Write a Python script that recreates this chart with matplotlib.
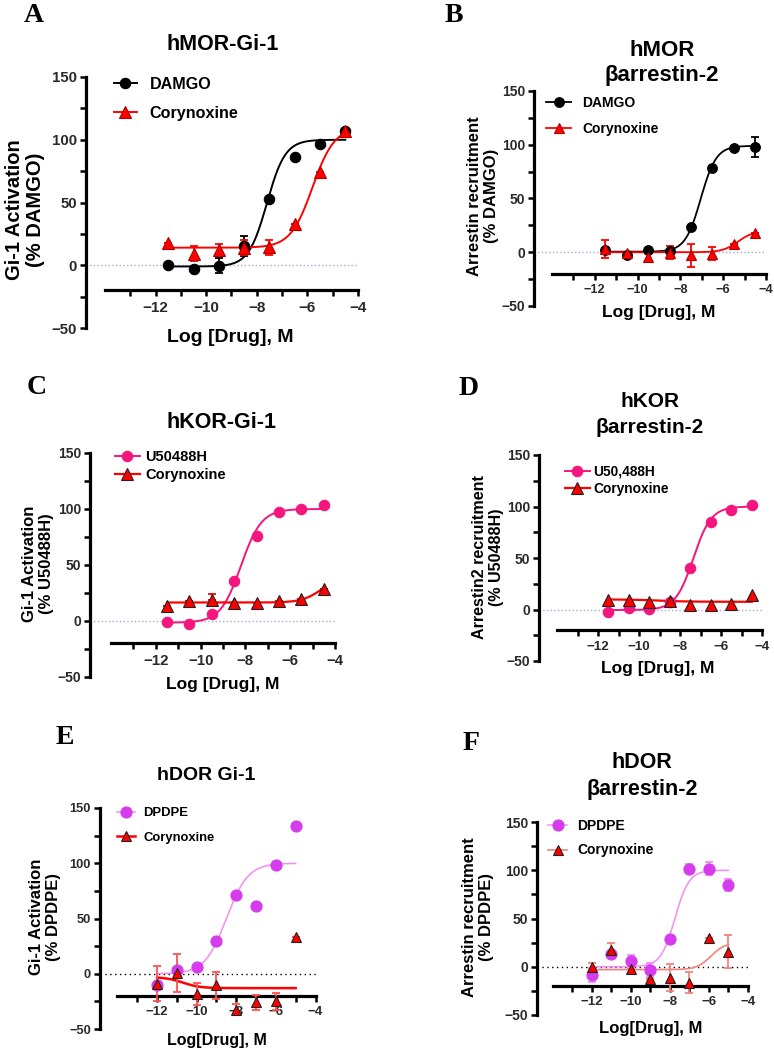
import numpy as np
import matplotlib
matplotlib.use("Agg")
import matplotlib.pyplot as plt
from matplotlib.lines import Line2D

plt.rcParams['font.family'] = ['Liberation Sans', 'DejaVu Sans']
plt.rcParams['font.weight'] = 'bold'

W, H = 774, 1050

# ---------------- data ----------------
x_half = [-11.5, -10.5, -9.5, -8.5, -7.5, -6.5, -5.5, -4.5]
x_int = [-12, -11, -10, -9, -8, -7, -6, -5]

# Panel A  hMOR-Gi-1
a_damgo = [0, -3, -0.5, 15, 52.5, 86.5, 96.5, 107]
a_damgo_err = [0, 0, 6, 8, 0, 0, 0, 0]
a_cory = [17.5, 9, 12, 14, 14.5, 32.5, 74.5, 107]
a_cory_err = [0, 6, 5, 6, 6, 0, 0, 0]
a_damgo_fit = [-1, 100, -7.6, 1.2]      # bottom, top, logEC50, hill
a_cory_fit = [14, 110, -5.8, 1.0]

# Panel B  hMOR barrestin-2
b_damgo = [2, -3, 2.5, 1.2, 23.5, 78.5, 97, 98]
b_damgo_err = [0, 0, 0, 0, 0, 0, 0, 9]
b_cory = [3, -1, -4.5, -0.5, -3, -1.5, 7.5, 17.5]
b_cory_err = [8.5, 0, 4, 6, 11, 6, 0, 0]
b_damgo_fit = [0.5, 99, -7.05, 1.2]
b_cory_fit = [0, 20, -5.3, 1.2]

# Panel C  hKOR-Gi-1
c_u50 = [-0.7, -2.5, 6.5, 35.5, 75.5, 97.3, 99.7, 104]
c_cory = [13.4, 17.8, 19, 16.4, 15.8, 17.8, 19.3, 28.3]
c_cory_err_up = [0, 0, 5, 0, 0, 0, 0, 0]
c_u50_fit = [-1.5, 100, -8.2, 0.95]
c_cory_fit = [16.5, 40, -4.6, 1.0]

# Panel D  hKOR barrestin-2
d_u50 = [-2.3, 1.3, 0.3, 7.7, 40, 84.5, 96.8, 101.6]
d_cory = [9, 9.7, 6.8, 8, 4.2, 4.8, 5.5, 13.9]
d_u50_fit = [-0.5, 100, -7.35, 1.0]
d_cory_fit = [9.8, 7.5, -9.0, 0.6]

# Panel E  hDOR Gi-1
e_dpdpe = [-10.6, 3, 6, 30, 71, 61, 98.3, 134]
e_cory = [-9, 0.6, -18, -10.6, -32.6, -26, -25, 33]
e_cory_err = [16, 17, 10, 12, 5, 7, 8, 0]
e_dpdpe_fit = [0, 100, -8.5, 0.8]
e_cory_fit = [-3, -13, -10.7, 1.0]

# Panel F  hDOR barrestin-2
f_dpdpe = [-8.6, 13, 5.9, -3.4, 28.3, 101.7, 101.7, 85]
f_dpdpe_err = [7, 3, 6, 7, 0, 5, 7, 6]
f_cory = [-0.7, 17, -2.4, -12.8, -11.4, -16.6, 30, 15.5]
f_cory_err = [5, 8, 0, 0, 14, 11, 0, 17]
f_dpdpe_fit = [0, 100, -7.75, 1.2]
f_cory_fit = [-3, 25, -5.9, 1.2]

xticks_major = [-12, -10, -8, -6, -4]
xticks_minor = [-13, -11, -9, -7, -5]
yticks_major = [-50, 0, 50, 100, 150]
yticks_minor = [-25, 25, 75, 125]

BLACK = '#000000'
RED = '#FF0000'
PINK = '#F5157E'
VIOLET = '#D63CEE'
VIOLET_LINE = '#F28CF6'
SALMON = '#F4837D'


def logistic(x, p):
    b, t, ec, h = p
    return b + (t - b) / (1.0 + 10 ** ((ec - x) * h))


def fig_axes(fig, left, right, top, bottom):
    return fig.add_axes([left / W, 1 - bottom / H, (right - left) / W, (bottom - top) / H])


def style_axes(ax, xl, tick_fs, ytick_fs, zero_color, zero_ls):
    ax.set_xlim(xl, -4)
    ax.set_ylim(-50, 150)
    for s in ['top', 'right']:
        ax.spines[s].set_visible(False)
    ax.spines['left'].set_linewidth(2.3)
    ax.spines['bottom'].set_linewidth(2.3)
    ax.spines['bottom'].set_position(('data', -20))
    ax.spines['bottom'].set_bounds(-14, -4)
    ax.spines['left'].set_bounds(-50, 150)
    ax.set_xticks(xticks_major)
    ax.set_xticks(xticks_minor, minor=True)
    ax.set_yticks(yticks_major)
    ax.set_yticks(yticks_minor, minor=True)
    ax.tick_params(which='both', width=1.8, length=4.5, color='black')
    ax.tick_params(axis='x', labelsize=tick_fs, labelcolor='#2a2a2a', pad=3)
    ax.tick_params(axis='y', labelsize=ytick_fs, labelcolor='#2a2a2a', pad=2)
    for lab in ax.get_xticklabels() + ax.get_yticklabels():
        lab.set_fontweight('bold')
    ax.plot([xl, -4], [0, 0], color=zero_color, ls=zero_ls, lw=1.0, zorder=1)
    ax.patch.set_alpha(0)


def curve(ax, xs, p, color, lw):
    xx = np.linspace(min(xs), max(xs), 300)
    ax.plot(xx, logistic(xx, p), color=color, lw=lw, zorder=2)


def points(ax, xs, ys, err, marker, face, edge, ms, ecolor, mew=0.8, lolims_only=False):
    if err is not None:
        err = np.asarray(err, dtype=float)
        yerr = [np.zeros_like(err), err] if lolims_only else err
        ax.errorbar(xs, ys, yerr=yerr, fmt='none', ecolor=ecolor, elinewidth=1.3,
                    capsize=3.0, capthick=1.3, zorder=3)
    ax.plot(xs, ys, ls='none', marker=marker, ms=ms, mfc=face, mec=edge, mew=mew, zorder=4)


def legend(ax, fig, entries, x_px, y_px, fs, hl, htp, ls):
    handles = []
    labels = []
    for lab, color, marker, face, edge, ms, lw in entries:
        handles.append(Line2D([0], [0], color=color, lw=lw, marker=marker, ms=ms, mfc=face,
                              mec=edge, mew=0.8))
        labels.append(lab)
    leg = ax.legend(handles, labels, loc='upper left', bbox_to_anchor=(x_px / W, 1 - y_px / H),
                    bbox_transform=fig.transFigure, frameon=False, borderpad=0, borderaxespad=0,
                    handlelength=hl, handletextpad=htp, labelspacing=ls,
                    prop={'size': fs, 'weight': 'bold'})
    return leg


def ftext(fig, x, y, s, **kw):
    return fig.text(x / W, 1 - y / H, s, ha='center', va='center', **kw)


fig = plt.figure(figsize=(W / 100, H / 100), dpi=100)

LB = '#A9A9DA'

# ---------- Panel A ----------
ax = fig_axes(fig, 86, 358, 77, 328)
style_axes(ax, -14.75, 11, 10.8, LB, ':')
curve(ax, x_half, a_damgo_fit, BLACK, 1.4)
curve(ax, x_half, a_cory_fit, RED, 1.4)
points(ax, x_half, a_damgo, a_damgo_err, 'o', BLACK, BLACK, 7.5, BLACK)
points(ax, x_half, a_cory, a_cory_err, '^', RED, '#B00000', 8, RED)
legend(ax, fig, [('DAMGO', BLACK, 'o', BLACK, BLACK, 7.5, 1.4),
                 ('Corynoxine', RED, '^', RED, '#B00000', 8, 1.4)],
       114, 77, 11.6, 1.4, 0.8, 0.85)
ftext(fig, 223, 44, 'hMOR-Gi-1', fontsize=15.5, fontweight='bold')
ftext(fig, 25, 210, 'Gi-1 Activation\n(% DAMGO)', fontsize=14.5, fontweight='bold', rotation=90,
      linespacing=1.1)
ftext(fig, 230, 338, 'Log [Drug], M', fontsize=14, fontweight='bold')
ftext(fig, 34, 15, 'A', fontsize=20, fontweight='bold', family='Liberation Serif')

# ---------- Panel B ----------
ax = fig_axes(fig, 534, 766, 91, 306)
style_axes(ax, -14.84, 9.2, 10, LB, ':')
curve(ax, x_half, b_damgo_fit, BLACK, 1.3)
curve(ax, x_half, b_cory_fit, RED, 1.3)
points(ax, x_half, b_damgo, b_damgo_err, 'o', BLACK, BLACK, 7, BLACK)
points(ax, x_half, b_cory, b_cory_err, '^', RED, '#B00000', 7.5, RED)
legend(ax, fig, [('DAMGO', BLACK, 'o', BLACK, BLACK, 7, 1.3),
                 ('Corynoxine', RED, '^', RED, '#B00000', 7.5, 1.3)],
       546, 96, 10, 1.8, 0.8, 0.85)
ftext(fig, 662, 50, 'hMOR', fontsize=16, fontweight='bold')
ftext(fig, 662, 75, 'βarrestin-2', fontsize=16, fontweight='bold')
ftext(fig, 483, 196, 'Arrestin recruitment\n(% DAMGO)', fontsize=12, fontweight='bold', rotation=90,
      linespacing=1.1)
ftext(fig, 659, 313, 'Log [Drug], M', fontsize=12.5, fontweight='bold')
ftext(fig, 454, 15, 'B', fontsize=20, fontweight='bold', family='Liberation Serif')

# ---------- Panel C ----------
ax = fig_axes(fig, 90, 335, 453, 677)
style_axes(ax, -14.94, 10.8, 10, LB, ':')
curve(ax, x_half, c_u50_fit, PINK, 1.4)
curve(ax, x_half, c_cory_fit, RED, 1.6)
points(ax, x_half, c_u50, None, 'o', PINK, PINK, 7.5, PINK)
points(ax, x_half, c_cory, c_cory_err_up, '^', RED, '#222222', 8, RED, lolims_only=True)
legend(ax, fig, [('U50488H', PINK, 'o', PINK, PINK, 7.5, 1.4),
                 ('Corynoxine', RED, '^', RED, '#222222', 8, 1.6)],
       115, 450, 10.5, 1.7, 0.35, 0.3)
ftext(fig, 222, 422, 'hKOR-Gi-1', fontsize=15.5, fontweight='bold')
ftext(fig, 38, 564, 'Gi-1 Activation\n(% U50488H)', fontsize=12, fontweight='bold', rotation=90,
      linespacing=1.1)
ftext(fig, 223, 685, 'Log [Drug], M', fontsize=12.5, fontweight='bold')
ftext(fig, 37, 387, 'C', fontsize=20, fontweight='bold', family='Liberation Serif')

# ---------- Panel D ----------
ax = fig_axes(fig, 539, 762, 455, 661)
style_axes(ax, -14.88, 9.6, 10, LB, ':')
curve(ax, x_half, d_u50_fit, PINK, 1.4)
curve(ax, x_half, d_cory_fit, RED, 1.6)
points(ax, x_half, d_u50, None, 'o', PINK, PINK, 7.5, PINK)
points(ax, x_half, d_cory, None, '^', RED, '#222222', 8, RED)
legend(ax, fig, [('U50,488H', PINK, 'o', PINK, PINK, 7.5, 1.4),
                 ('Corynoxine', RED, '^', RED, '#222222', 8, 1.6)],
       565, 465, 9.9, 1.8, 0.25, 0.2)
ftext(fig, 650, 402, 'hKOR', fontsize=15, fontweight='bold')
ftext(fig, 650, 428, 'βarrestin-2', fontsize=15, fontweight='bold')
ftext(fig, 488, 557, 'Arrestin2 recruitment\n(% U50488H)', fontsize=11.6, fontweight='bold',
      rotation=90, linespacing=1.1)
ftext(fig, 658, 668, 'Log [Drug], M', fontsize=12.5, fontweight='bold')
ftext(fig, 469, 388, 'D', fontsize=20, fontweight='bold', family='Liberation Serif')

# ---------- Panel E ----------
ax = fig_axes(fig, 100, 315.5, 808, 1029)
style_axes(ax, -14.88, 9.5, 9.3, BLACK, (0, (1, 2.5)))
curve(ax, x_int, e_dpdpe_fit, VIOLET_LINE, 1.1)
curve(ax, x_int, e_cory_fit, RED, 1.8)
points(ax, x_int, e_dpdpe, None, 'o', VIOLET, VIOLET, 8, VIOLET)
points(ax, x_int, e_cory, e_cory_err, '^', RED, '#222222', 7.5, '#FF5050')
legend(ax, fig, [('DPDPE', VIOLET_LINE, 'o', VIOLET, VIOLET, 8, 1.1),
                 ('Corynoxine', RED, '^', RED, '#222222', 7.5, 1.8)],
       117, 807, 9.4, 1.4, 0.6, 0.95)
ftext(fig, 206, 775, 'hDOR Gi-1', fontsize=14, fontweight='bold')
ftext(fig, 45, 917, 'Gi-1 Activation\n(% DPDPE)', fontsize=12, fontweight='bold', rotation=90,
      linespacing=1.1)
ftext(fig, 217, 1040, 'Log[Drug], M', fontsize=11.5, fontweight='bold')
ftext(fig, 65, 737, 'E', fontsize=20, fontweight='bold', family='Liberation Serif')

# ---------- Panel F ----------
ax = fig_axes(fig, 537, 748, 822, 1015)
style_axes(ax, -14.82, 9.5, 10, BLACK, (0, (1, 2.5)))
curve(ax, x_int, f_dpdpe_fit, VIOLET_LINE, 1.1)
curve(ax, x_int, f_cory_fit, SALMON, 1.2)
points(ax, x_int, f_dpdpe, f_dpdpe_err, 'o', VIOLET, VIOLET, 8, VIOLET_LINE)
points(ax, x_int, f_cory, f_cory_err, '^', RED, '#222222', 7.5, SALMON)
legend(ax, fig, [('DPDPE', VIOLET_LINE, 'o', VIOLET, VIOLET, 8, 1.1),
                 ('Corynoxine', SALMON, '^', RED, '#222222', 7.5, 1.2)],
       548, 819, 10, 1.4, 0.7, 0.75)
ftext(fig, 642, 762, 'hDOR', fontsize=15.5, fontweight='bold')
ftext(fig, 642, 789, 'βarrestin-2', fontsize=15.5, fontweight='bold')
ftext(fig, 478, 917, 'Arrestin recruitment\n(% DPDPE)', fontsize=12, fontweight='bold',
      rotation=90, linespacing=1.1)
ftext(fig, 651, 1028, 'Log[Drug], M', fontsize=12, fontweight='bold')
ftext(fig, 471, 743, 'F', fontsize=20, fontweight='bold', family='Liberation Serif')

fig.savefig('out.png', dpi=100)
